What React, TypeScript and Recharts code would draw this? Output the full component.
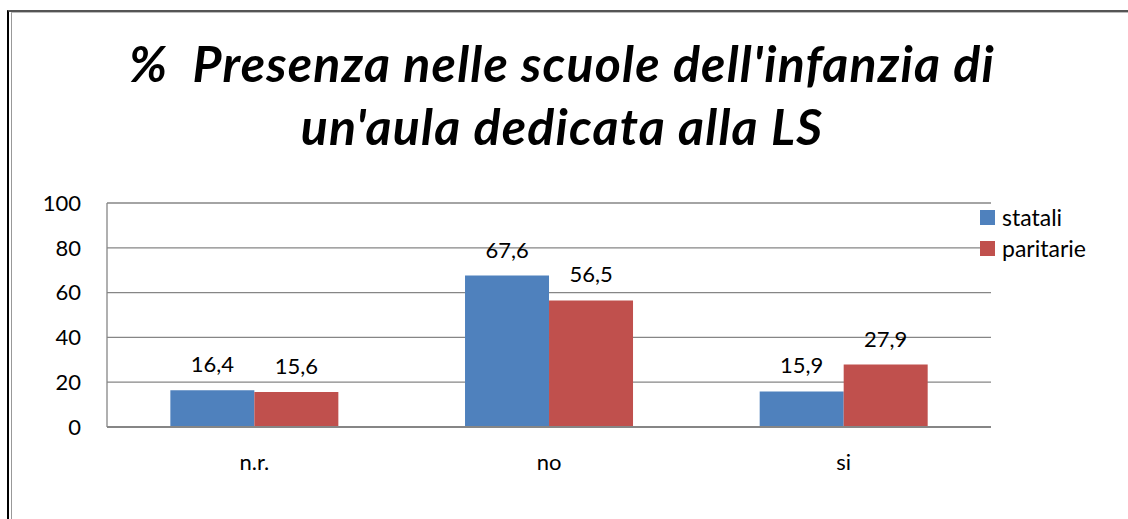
import React from 'react';
import { BarChart, Bar, XAxis, YAxis, CartesianGrid, LabelList } from 'recharts';

const categories = ['n.r.', 'no', 'si'];
const statali = [16.4, 67.6, 15.9];
const paritarie = [15.6, 56.5, 27.9];
const yTicks = [0, 20, 40, 60, 80, 100];

const data = categories.map((name, i) => ({
  name,
  statali: statali[i],
  paritarie: paritarie[i],
}));

const FONT = 'Lato, "Open Sans", sans-serif';
const BLUE = '#4F81BD';
const RED = '#C0504D';
const GRID = '#868686';
const FS = 22;

const comma = (v: any) => String(v).replace('.', ',');

const App = () => {
  return (
    <div style={{ position: 'absolute', left: 0, top: 0, width: 1128, height: 519, background: '#fff', overflow: 'hidden', fontFamily: FONT }}>
      {/* frame */}
      <div style={{ position: 'absolute', left: 7, top: 10, width: 1200, height: 600, borderLeft: '2px solid #000', borderTop: '2px solid #555' }} />
      <div style={{ position: 'absolute', left: 11, top: 12, width: 1200, height: 600, borderLeft: '1px solid #999', borderTop: '1px solid #bbb' }} />

      <div
        style={{
          position: 'absolute',
          left: 0,
          top: 32,
          width: 1124,
          textAlign: 'center',
          fontSize: 50,
          fontWeight: 700,
          fontStyle: 'italic',
          letterSpacing: 1.2,
          lineHeight: '63px',
          color: '#000',
        }}
      >
        %&nbsp; Presenza nelle scuole dell'infanzia di
        <br />
        un'aula dedicata alla LS
      </div>

      <div style={{ position: 'absolute', left: 0, top: 0 }}>
        <BarChart
          width={1128}
          height={519}
          data={data}
          margin={{ top: 203, right: 137, bottom: 62, left: 47 }}
          barCategoryGap="21.5%"
          barGap={0}
        >
          <CartesianGrid vertical={false} stroke={GRID} strokeWidth={1.3} />
          <XAxis
            dataKey="name"
            axisLine={{ stroke: GRID, strokeWidth: 2 }}
            tickLine={false}
            tickSize={0}
            tickMargin={27}
            tick={{ fill: '#000', fontSize: FS, fontFamily: FONT }}
          />
          <YAxis
            width={60}
            domain={[0, 100]}
            ticks={yTicks}
            interval={0}
            axisLine={{ stroke: GRID, strokeWidth: 1.3 }}
            tickLine={false}
            tickSize={0}
            tickMargin={26}
            tick={{ fill: '#000', fontSize: FS, fontFamily: FONT }}
          />
          <Bar dataKey="statali" fill={BLUE} isAnimationActive={false}>
            <LabelList dataKey="statali" position="top" offset={18} formatter={comma} fill="#000" fontSize={FS} fontFamily={FONT} />
          </Bar>
          <Bar dataKey="paritarie" fill={RED} isAnimationActive={false}>
            <LabelList dataKey="paritarie" position="top" offset={18} formatter={comma} fill="#000" fontSize={FS} fontFamily={FONT} />
          </Bar>
        </BarChart>
      </div>

      {/* legend */}
      <div style={{ position: 'absolute', left: 980, top: 202, fontSize: FS + 1, color: '#000', lineHeight: '31px' }}>
        {[
          { label: 'statali', color: BLUE },
          { label: 'paritarie', color: RED },
        ].map((it) => (
          <div key={it.label} style={{ display: 'flex', alignItems: 'center' }}>
            <span style={{ display: 'inline-block', width: 15, height: 15, background: it.color, marginRight: 7 }} />
            <span>{it.label}</span>
          </div>
        ))}
      </div>
    </div>
  );
};

export default App;
